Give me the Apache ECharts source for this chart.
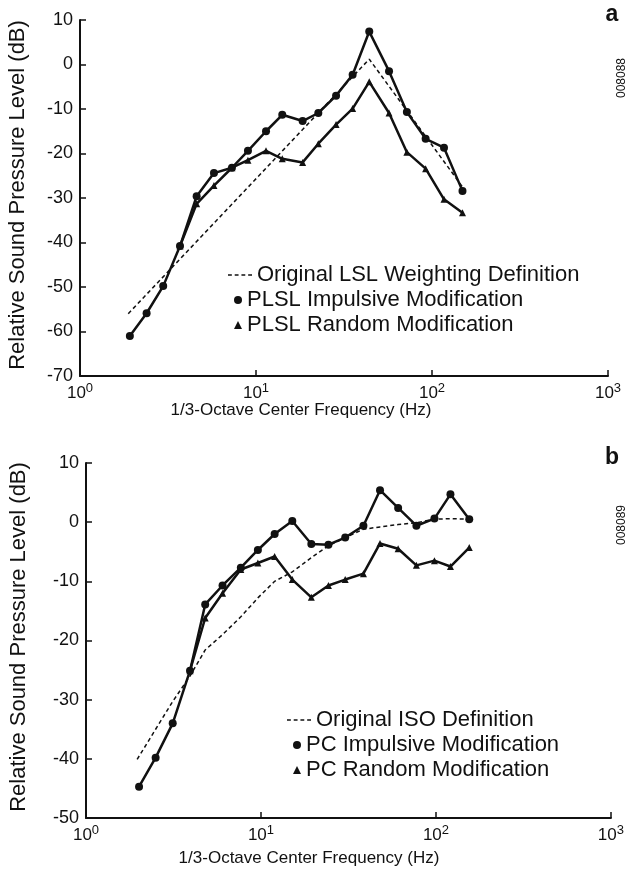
<!DOCTYPE html>
<html>
<head>
<meta charset="utf-8">
<script src="https://cdn.jsdelivr.net/npm/echarts@6/dist/echarts.min.js"></script>
<style>
html,body{margin:0;padding:0;background:#fff;}
#c{width:627px;height:873px;}
</style>
</head>
<body>
<div id="c"></div>
<script>
// ---- Panel a data ----
var topFreq = [1.92, 2.39, 2.97, 3.7, 4.6, 5.77, 7.3, 9.0, 11.4, 14.1, 18.4, 22.6, 28.5, 35.4, 44, 57, 72, 92, 117, 149];
var topImpulsive = [-61, -55.9, -49.8, -40.8, -29.6, -24.4, -23.2, -19.4, -15, -11.3, -12.7, -10.9, -7, -2.3, 7.4, -1.5, -10.7, -16.7, -18.7, -28.4];
var topRandomFreq = [3.7, 4.6, 5.77, 7.3, 9.0, 11.4, 14.1, 18.4, 22.6, 28.5, 35.4, 44, 57, 72, 92, 117, 149];
var topRandom = [-40.8, -31.3, -27.2, -23.2, -21.5, -19.4, -21.2, -22, -17.8, -13.5, -9.9, -3.9, -10.9, -19.7, -23.4, -30.3, -33.3];
var lslFreq = [1.88, 44, 149];
var lslValue = [-56, 1.2, -27.5];

// ---- Panel b data ----
var botFreq = [2.01, 2.5, 3.13, 3.93, 4.8, 6.03, 7.67, 9.6, 11.97, 15.1, 19.4, 24.3, 30.3, 38.5, 47.9, 60.8, 77.3, 98, 121, 155];
var botImpulsive = [-44.7, -39.8, -34, -25.1, -13.9, -10.7, -7.7, -4.7, -2, 0.2, -3.7, -3.8, -2.6, -0.6, 5.4, 2.4, -0.6, 0.6, 4.7, 0.5];
var botRandomFreq = [3.93, 4.8, 6.03, 7.67, 9.6, 11.97, 15.1, 19.4, 24.3, 30.3, 38.5, 47.9, 60.8, 77.3, 98, 121, 155];
var botRandom = [-25.1, -16.2, -12, -8, -6.9, -5.8, -9.7, -12.7, -10.7, -9.7, -8.7, -3.6, -4.5, -7.3, -6.5, -7.5, -4.3];
var isoFreq = [1.96, 2.5, 3.13, 3.93, 4.8, 6.03, 7.67, 9.6, 11.97, 15.1, 19.4, 24.3, 30.3, 38.5, 47.9, 60.8, 77.3, 98, 121, 155];
var isoValue = [-40.1, -35, -30.3, -26, -21.6, -19, -16, -12.8, -10, -8.4, -6, -4, -2.6, -1.2, -0.8, -0.4, -0.1, 0.5, 0.6, 0.5];

// ---- Axis ticks ----
var xMin = 1, xMax = 1000;
var topYMin = -70, topYMax = 10;
var botYMin = -50, botYMax = 10;
var yStep = 10;

var legendA = ['Original LSL Weighting Definition', 'PLSL Impulsive Modification', 'PLSL Random Modification'];
var legendB = ['Original ISO Definition', 'PC Impulsive Modification', 'PC Random Modification'];

function pairs(xs, ys) { return xs.map(function (x, i) { return [x, ys[i]]; }); }

var FONT = '"Liberation Sans", Arial, Helvetica, sans-serif';
var BLACK = '#111';
var DASH_ICON = 'path://M0,0h4v1h-4zM7,0h4v1h-4zM14,0h4v1h-4zM21,0h4v1h-4z';

function xAxisDef(idx) {
  return {
    type: 'log', logBase: 10, min: xMin, max: xMax, gridIndex: idx,
    axisLine: { show: true, onZero: false, lineStyle: { color: BLACK, width: 2 } },
    axisTick: { show: true, inside: true, length: 6, lineStyle: { color: BLACK, width: 1.5 } },
    minorTick: { show: false },
    splitLine: { show: false },
    axisLabel: {
      margin: 6, color: BLACK, fontFamily: FONT,
      formatter: function (v) { return '{b|10}{s|' + Math.round(Math.log10(v)) + '}'; },
      rich: {
        b: { fontSize: 17, fontFamily: FONT, color: BLACK, lineHeight: 20, verticalAlign: 'bottom' },
        s: { fontSize: 13, fontFamily: FONT, color: BLACK, lineHeight: 20, verticalAlign: 'top', padding: [0, 0, 6, 0] }
      }
    }
  };
}
function yAxisDef(idx, mn, mx) {
  return {
    type: 'value', min: mn, max: mx, interval: yStep, gridIndex: idx,
    axisLine: { show: true, lineStyle: { color: BLACK, width: 2 } },
    axisTick: { show: true, inside: true, length: 6, lineStyle: { color: BLACK, width: 1.5 } },
    splitLine: { show: false },
    axisLabel: { margin: 7, color: BLACK, fontSize: 18, fontFamily: FONT }
  };
}

function lineSeries(name, data, xi, symbol, size, dashed) {
  return {
    name: name, type: 'line', xAxisIndex: xi, yAxisIndex: xi, data: data,
    symbol: dashed ? 'none' : symbol, symbolSize: size, showSymbol: !dashed,
    lineStyle: { color: BLACK, width: dashed ? 1.5 : 2.5, type: dashed ? [4, 3] : 'solid' },
    itemStyle: { color: BLACK },
    animation: false, z: dashed ? 2 : 3
  };
}

function legendDef(left, top, names, marker) {
  return {
    left: left, top: top, orient: 'vertical', itemGap: 3, padding: 0,
    itemWidth: marker ? 8 : 24, itemHeight: marker ? 8 : 1.6,
    symbolKeepAspect: false,
    selectedMode: false,
    textStyle: { fontSize: 22, fontFamily: FONT, color: BLACK, lineHeight: 22 },
    data: marker
      ? [{ name: names[1], icon: 'circle' }, { name: names[2], icon: 'triangle' }]
      : [{ name: names[0], icon: DASH_ICON }]
  };
}

var chart = echarts.init(document.getElementById('c'), null, { renderer: 'canvas' });
chart.setOption({
  backgroundColor: '#fff',
  animation: false,
  grid: [
    { left: 80, top: 20, width: 528, height: 356 },
    { left: 86, top: 463, width: 528, height: 355 }
  ],
  xAxis: [xAxisDef(0), xAxisDef(1)],
  yAxis: [yAxisDef(0, topYMin, topYMax), yAxisDef(1, botYMin, botYMax)],
  legend: [
    legendDef(228, 264, legendA, false),
    legendDef(234, 289, legendA, true),
    legendDef(287, 709, legendB, false),
    legendDef(293, 734, legendB, true)
  ],
  series: [
    lineSeries(legendA[0], pairs(lslFreq, lslValue), 0, 'none', 0, true),
    lineSeries(legendA[1], pairs(topFreq, topImpulsive), 0, 'circle', 8, false),
    lineSeries(legendA[2], pairs(topRandomFreq, topRandom), 0, 'triangle', 7, false),
    lineSeries(legendB[0], pairs(isoFreq, isoValue), 1, 'none', 0, true),
    lineSeries(legendB[1], pairs(botFreq, botImpulsive), 1, 'circle', 8, false),
    lineSeries(legendB[2], pairs(botRandomFreq, botRandom), 1, 'triangle', 7, false)
  ],
  graphic: [
    { type: 'text', x: 301, y: 410, style: { text: '1/3-Octave Center Frequency (Hz)', fontSize: 17, fontFamily: FONT, fill: BLACK, textAlign: 'center', textVerticalAlign: 'middle' } },
    { type: 'text', x: 309, y: 858, style: { text: '1/3-Octave Center Frequency (Hz)', fontSize: 17, fontFamily: FONT, fill: BLACK, textAlign: 'center', textVerticalAlign: 'middle' } },
    { type: 'text', x: 18, y: 195, rotation: Math.PI / 2, style: { text: 'Relative Sound Pressure Level (dB)', fontSize: 22, fontFamily: FONT, fill: BLACK, textAlign: 'center', textVerticalAlign: 'middle' } },
    { type: 'text', x: 19, y: 637, rotation: Math.PI / 2, style: { text: 'Relative Sound Pressure Level (dB)', fontSize: 22, fontFamily: FONT, fill: BLACK, textAlign: 'center', textVerticalAlign: 'middle' } },
    { type: 'text', x: 612, y: 15, style: { text: 'a', fontSize: 23, fontWeight: 'bold', fontFamily: FONT, fill: BLACK, textAlign: 'center', textVerticalAlign: 'middle' } },
    { type: 'text', x: 612, y: 458, style: { text: 'b', fontSize: 23, fontWeight: 'bold', fontFamily: FONT, fill: BLACK, textAlign: 'center', textVerticalAlign: 'middle' } },
    { type: 'text', x: 622, y: 78, rotation: Math.PI / 2, style: { text: '008088', fontSize: 12, fontFamily: FONT, fill: BLACK, textAlign: 'center', textVerticalAlign: 'middle' } },
    { type: 'text', x: 622, y: 525, rotation: Math.PI / 2, style: { text: '008089', fontSize: 12, fontFamily: FONT, fill: BLACK, textAlign: 'center', textVerticalAlign: 'middle' } }
  ]
});
</script>
</body>
</html>
